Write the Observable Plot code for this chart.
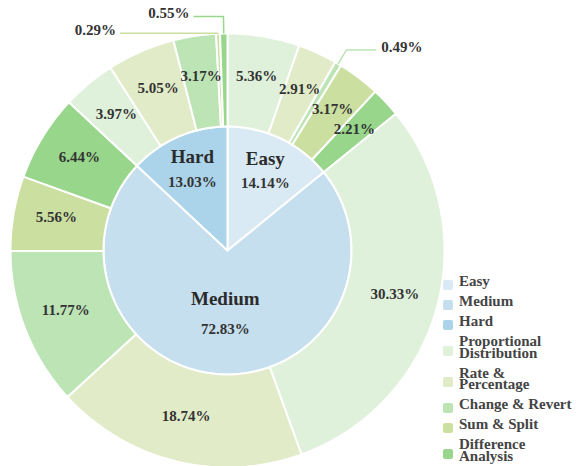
<!DOCTYPE html>
<html><head><meta charset="utf-8">
<script src="https://cdn.jsdelivr.net/npm/d3@7"></script>
<script src="https://cdn.jsdelivr.net/npm/@observablehq/plot@0.6"></script>
<style>
html,body{margin:0;padding:0;background:#fff;}
#wrap{position:relative;width:576px;height:466px;overflow:hidden;}
#chart svg text{font-family:"Liberation Serif","Times New Roman",serif;}
#legend{position:absolute;left:443px;top:275px;font-family:"Liberation Serif",serif;font-weight:bold;font-size:15px;color:#444;}
.item{display:flex;align-items:center;}
.sw{width:10px;height:10px;border-radius:2px;margin-right:6px;flex:none;}
.lab{position:relative;top:-3px;line-height:11.5px;max-width:116px;}
</style></head><body><div id="wrap"><div id="chart"></div><div id="legend"></div></div>
<script>
// ---- data ----
const levels = ["Easy", "Medium", "Hard"];
const levelShares = [14.14, 72.83, 13.03];
const types = ["Proportional Distribution", "Rate & Percentage", "Change & Revert", "Sum & Split", "Difference Analysis"];
const easyShares = [5.36, 2.91, 0.49, 3.17, 2.21];
const mediumShares = [30.33, 18.74, 11.77, 5.56, 6.44];
const hardShares = [3.97, 5.05, 3.17, 0.29, 0.55];
const levelColors = ["#d9eaf4", "#c5dfef", "#abd4ea"];
const typeColors = ["#dff1da", "#e1ebc8", "#bce4b5", "#cbdfa1", "#98d78b"];
const childShares = [easyShares, mediumShares, hardShares];

// ---- layout parameters ----
const PIE_R = 124 / 217;   // pie radius relative to outer ring radius
const RING_LABEL_R = 0.80;
// leader line layout for small outer slices (pixels): radial extension, horizontal length
const leaderLayout = {
  "Easy|Change & Revert": {ext: 16, len: 30},
  "Hard|Sum & Split": {ext: 0.5, len: 98},
  "Hard|Difference Analysis": {ext: 17, len: 30}
};
const PX = 1 / 217;

const total = d3.sum(levelShares);
const fmt = v => v.toFixed(2) + "%";

function arcPoints(id, color, f0, f1, r0, r1) {
  const n = Math.max(2, Math.ceil((f1 - f0) * 360) + 1);
  const pts = [];
  for (let k = 0; k < n; k++) {
    const a = 2 * Math.PI * (f0 + (f1 - f0) * k / (n - 1));
    pts.push({id, color, x: r1 * Math.sin(a), y: r1 * Math.cos(a)});
  }
  if (r0 === 0) pts.push({id, color, x: 0, y: 0});
  else for (let k = n - 1; k >= 0; k--) {
    const a = 2 * Math.PI * (f0 + (f1 - f0) * k / (n - 1));
    pts.push({id, color, x: r0 * Math.sin(a), y: r0 * Math.cos(a)});
  }
  pts.push({...pts[0]});
  return pts;
}

const polys = [];
const ringLabels = [];
const outsideLabels = [];
const leaders = [];
const innerNames = [];
const innerValues = [];

let cum = 0;
levels.forEach((lv, i) => {
  const f0 = cum / total, f1 = (cum + levelShares[i]) / total;
  polys.push(...arcPoints("L" + i, levelColors[i], f0, f1, 0, PIE_R));
  const mid = 2 * Math.PI * (f0 + f1) / 2;
  const big = levelShares[i] > 50;
  const ar = PIE_R * (big ? 0.51 : 0.71);
  const off = (big ? 15 : 12.5) * PX;
  const ax = ar * Math.sin(mid), ay = ar * Math.cos(mid);
  innerNames.push({x: ax, y: ay + off, text: lv});
  innerValues.push({x: ax, y: ay - off, text: fmt(levelShares[i])});

  const kids = childShares[i];
  const ksum = d3.sum(kids);
  let kc = 0;
  kids.forEach((v, j) => {
    const g0 = f0 + (f1 - f0) * kc / ksum;
    const g1 = f0 + (f1 - f0) * (kc + v) / ksum;
    kc += v;
    const id = "C" + i + "_" + j;
    polys.push(...arcPoints(id, typeColors[j], g0, g1, PIE_R, 1));
    const m = 2 * Math.PI * (g0 + g1) / 2;
    const s = Math.sin(m), c = Math.cos(m);
    if (v >= 1) {
      ringLabels.push({x: RING_LABEL_R * s, y: RING_LABEL_R * c, text: fmt(v)});
    } else {
      const L = leaderLayout[lv + "|" + types[j]] || {ext: 15, len: 30};
      const r1 = 1 + L.ext * PX;
      const side = s >= 0 ? 1 : -1;
      const p1 = {x: r1 * s, y: r1 * c};
      const p2 = {x: p1.x + side * L.len * PX, y: p1.y};
      leaders.push({id, color: typeColors[j], x: s, y: c});
      leaders.push({id, color: typeColors[j], ...p1});
      leaders.push({id, color: typeColors[j], ...p2});
      outsideLabels.push({x: p2.x, y: p2.y, text: fmt(v), side});
    }
  });
  cum += levelShares[i];
});

const font = "Liberation Serif";
const chart = Plot.plot({
  width: 576,
  height: 466,
  margin: 0,
  x: {domain: [-1, 1], range: [10, 444], axis: null},
  y: {domain: [-1, 1], range: [467, 33], axis: null},
  color: {type: "identity"},
  style: {background: "transparent"},
  marks: [
    Plot.line(polys, {x: "x", y: "y", z: "id", fill: "color", stroke: "#fff", strokeWidth: 2, strokeLinejoin: "round"}),
    Plot.line(leaders, {x: "x", y: "y", z: "id", stroke: "color", strokeWidth: 1.5, strokeLinejoin: "miter", strokeLinecap: "butt"}),
    Plot.text(ringLabels, {x: "x", y: "y", text: "text", dy: -3, fontFamily: font, fontWeight: "bold", fontSize: 15, fill: "#333"}),
    Plot.text(outsideLabels.filter(d => d.side > 0), {x: "x", y: "y", text: "text", dx: 5, dy: -3, textAnchor: "start", fontFamily: font, fontWeight: "bold", fontSize: 15, fill: "#333"}),
    Plot.text(outsideLabels.filter(d => d.side < 0), {x: "x", y: "y", text: "text", dx: -4, dy: -3, textAnchor: "end", fontFamily: font, fontWeight: "bold", fontSize: 15, fill: "#333"}),
    Plot.text(innerNames, {x: "x", y: "y", text: "text", fontFamily: font, fontWeight: "bold", fontSize: 19, fill: "#2b2b2b"}),
    Plot.text(innerValues, {x: "x", y: "y", text: "text", fontFamily: font, fontWeight: "bold", fontSize: 15, fill: "#333"})
  ]
});
document.getElementById("chart").appendChild(chart);

// ---- legend ----
const legend = d3.select("#legend");
const legendItems = levels.map((l, i) => ({name: l, color: levelColors[i]}))
  .concat(types.map((t, j) => ({name: t, color: typeColors[j]})));
legendItems.forEach(it => {
  const row = legend.append("div").attr("class", "item");
  row.append("div").attr("class", "sw").style("background", it.color);
  row.append("div").attr("class", "lab").text(it.name);
});
legend.selectAll(".item").each(function() {
  const lab = this.querySelector(".lab");
  const lines = Math.round(lab.getBoundingClientRect().height / 11.5);
  this.style.height = (lines * 11.5 + 8.5) + "px";
});
</script></body></html>
